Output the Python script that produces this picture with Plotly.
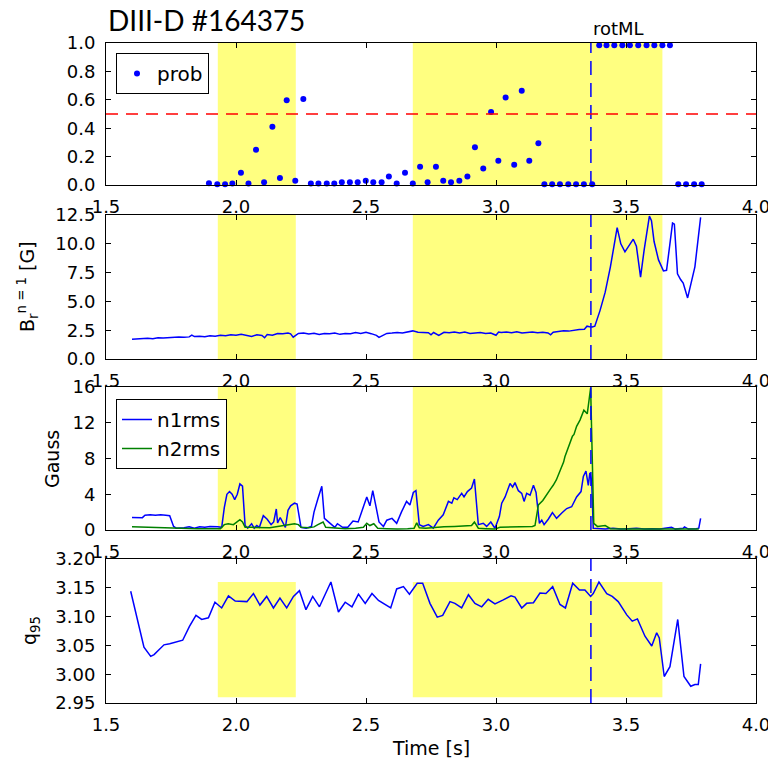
import plotly.graph_objects as go

# ---------------- data ----------------
prob_t = [1.896, 1.928, 1.958, 1.986, 2.019, 2.048, 2.077, 2.108, 2.140, 2.169,
          2.195, 2.228, 2.259, 2.288, 2.317, 2.349, 2.378, 2.407, 2.438, 2.468,
          2.499, 2.528, 2.560, 2.588, 2.618, 2.650, 2.680, 2.708, 2.737, 2.769,
          2.797, 2.827, 2.859, 2.890, 2.919, 2.951, 2.981, 3.009, 3.037, 3.070,
          3.099, 3.128, 3.163, 3.186, 3.216, 3.246, 3.278, 3.308, 3.338, 3.370,
          3.397, 3.425, 3.455, 3.486, 3.515, 3.547, 3.579, 3.609, 3.640, 3.669,
          3.701, 3.731, 3.762, 3.791]
prob_v = [0.012, 0.005, 0.005, 0.010, 0.087, 0.010, 0.249, 0.020, 0.410, 0.050,
          0.597, 0.030, 0.605, 0.010, 0.010, 0.010, 0.010, 0.020, 0.020, 0.020,
          0.030, 0.020, 0.020, 0.060, 0.010, 0.087, 0.010, 0.128, 0.020, 0.128,
          0.030, 0.020, 0.030, 0.060, 0.265, 0.116, 0.514, 0.170, 0.616, 0.142,
          0.664, 0.170, 0.294, 0.005, 0.005, 0.005, 0.005, 0.005, 0.005, 0.005,
          0.985, 0.985, 0.985, 0.985, 0.985, 0.985, 0.985, 0.985, 0.985, 0.985,
          0.005, 0.005, 0.005, 0.005]

br_t = [1.60, 1.62, 1.64, 1.66, 1.68, 1.70, 1.72, 1.74, 1.76, 1.78, 1.80, 1.82, 1.83, 1.84,
        1.86, 1.88, 1.90, 1.92, 1.94, 1.96, 1.98, 2.00, 2.02, 2.04, 2.06, 2.08, 2.10, 2.11,
        2.12, 2.14, 2.16, 2.18, 2.20, 2.21, 2.22, 2.24, 2.26, 2.28, 2.30, 2.32, 2.34, 2.36,
        2.38, 2.40, 2.42, 2.44, 2.46, 2.48, 2.50, 2.52, 2.54, 2.55, 2.56, 2.58, 2.60, 2.62,
        2.64, 2.66, 2.68, 2.70, 2.72, 2.74, 2.75, 2.76, 2.78, 2.80, 2.82, 2.84, 2.86, 2.88,
        2.90, 2.92, 2.94, 2.96, 2.98, 3.00, 3.01, 3.02, 3.04, 3.06, 3.08, 3.10, 3.12, 3.14,
        3.16, 3.18, 3.20, 3.21, 3.22, 3.24, 3.26, 3.28, 3.30, 3.32, 3.34, 3.35, 3.36, 3.37,
        3.38, 3.40, 3.42, 3.44, 3.466, 3.48, 3.496, 3.51, 3.528, 3.54, 3.556, 3.57, 3.59,
        3.598, 3.608, 3.625, 3.644, 3.656, 3.679, 3.686, 3.698, 3.71, 3.72, 3.737, 3.75,
        3.765, 3.787]
br_v = [1.72, 1.75, 1.72, 1.80, 1.76, 1.84, 1.82, 1.86, 1.85, 1.90, 1.88, 1.92, 2.08, 1.95,
        1.98, 1.94, 2.02, 1.98, 2.06, 2.02, 2.10, 2.06, 2.14, 2.08, 1.96, 2.10, 2.05, 1.85,
        2.12, 2.06, 2.22, 2.20, 2.25, 2.18, 1.90, 2.22, 2.26, 2.18, 2.24, 2.12, 2.22, 2.20,
        2.26, 2.14, 2.22, 2.20, 2.30, 2.22, 2.32, 2.20, 2.05, 1.88, 2.00, 2.22, 2.25, 2.30,
        2.26, 2.36, 2.44, 2.32, 2.30, 2.28, 2.10, 2.30, 2.04, 2.32, 2.28, 2.34, 2.26, 2.34,
        2.22, 2.24, 2.30, 2.22, 2.26, 2.06, 2.34, 2.30, 2.34, 2.28, 2.36, 2.26, 2.30, 2.34,
        2.28, 2.32, 2.26, 2.10, 2.32, 2.36, 2.46, 2.42, 2.50, 2.55, 2.58, 2.85, 2.80, 2.78,
        2.85, 4.2, 5.8, 8.0, 11.4, 10.0, 9.3, 9.8, 10.4, 9.8, 7.1, 9.5, 12.4,
        12.0, 10.2, 8.6, 7.65, 7.7, 11.8, 11.7, 7.4, 6.9, 6.6, 5.3, 6.5,
        8.0, 12.3]

n1_t = [1.60, 1.62, 1.64, 1.65, 1.67, 1.69, 1.71, 1.73, 1.745, 1.76, 1.77, 1.80, 1.82, 1.84,
        1.86, 1.88, 1.90, 1.93, 1.945, 1.955, 1.965, 1.975, 1.985, 1.995, 2.005, 2.015, 2.025,
        2.035, 2.045, 2.06, 2.07, 2.08, 2.09, 2.105, 2.12, 2.135, 2.145, 2.155, 2.16, 2.17,
        2.178, 2.19, 2.20, 2.21, 2.225, 2.235, 2.25, 2.27, 2.29, 2.30, 2.315, 2.33, 2.34,
        2.35, 2.36, 2.38, 2.39, 2.41, 2.43, 2.45, 2.47, 2.49, 2.503, 2.515, 2.526, 2.54,
        2.55, 2.567, 2.58, 2.60, 2.618, 2.637, 2.656, 2.669, 2.682, 2.692, 2.705, 2.72,
        2.74, 2.759, 2.778, 2.797, 2.817, 2.83, 2.838, 2.851, 2.868, 2.877, 2.89, 2.906,
        2.917, 2.932, 2.951, 2.964, 2.98, 2.996, 3.013, 3.022, 3.035, 3.054, 3.064, 3.073,
        3.086, 3.099, 3.108, 3.118, 3.131, 3.144, 3.154, 3.167, 3.176, 3.185, 3.201, 3.217,
        3.233, 3.253, 3.272, 3.291, 3.31, 3.327, 3.336, 3.346, 3.355, 3.361, 3.368, 3.374,
        3.39, 3.42, 3.45, 3.48, 3.51, 3.54, 3.57, 3.60, 3.63, 3.66, 3.675, 3.69, 3.72,
        3.725, 3.74, 3.77, 3.78, 3.787]
n1_v = [1.40, 1.42, 1.38, 1.65, 1.70, 1.65, 1.70, 1.65, 1.60, 0.40, 0.20, 0.25, 0.35, 0.20,
        0.35, 0.30, 0.40, 0.35, 0.30, 2.5, 4.0, 4.3, 4.0, 3.4, 4.0, 5.15, 4.9,
        0.5, 0.2, 0.7, 0.2, 0.5, 0.3, 1.6, 1.2, 0.6, 0.9, 2.35, 0.8, 1.4,
        0.9, 0.3, 2.2, 2.7, 3.0, 2.9, 0.3, 0.2, 0.4, 2.0, 3.5, 4.9, 1.3,
        1.0, 0.8, 0.3, 0.7, 0.3, 0.3, 1.0, 0.9, 2.6, 3.7, 2.7, 4.4, 2.4,
        0.9, 0.4, 1.1, 1.3, 0.75, 2.05, 3.2, 2.8, 4.2, 4.4, 0.6, 0.4,
        0.6, 0.2, 1.1, 1.7, 3.2, 3.0, 3.6, 3.4, 4.1, 3.7, 4.3, 4.7,
        5.7, 0.6, 0.75, 0.4, 0.9, 0.2, 1.5, 3.0, 3.7, 5.2, 4.8, 5.3,
        4.4, 4.1, 3.2, 4.1, 3.9, 5.0, 4.2, 0.75, 1.1, 0.6, 1.2, 1.95,
        1.3, 1.9, 2.4, 2.6, 3.7, 4.3, 6.0, 6.6, 5.0, 6.4, 5.5, 0.2,
        0.15, 0.1, 0.2, 0.1, 0.15, 0.2, 0.1, 0.15, 0.1, 0.2, 0.3, 0.1, 0.2,
        0.35, 0.1, 0.15, 0.2, 1.3]

n2_t = [1.60, 1.65, 1.70, 1.75, 1.80, 1.85, 1.90, 1.94, 1.955, 1.97, 1.99, 2.00, 2.015,
        2.025, 2.035, 2.06, 2.10, 2.13, 2.16, 2.19, 2.21, 2.225, 2.24, 2.25, 2.28, 2.30,
        2.315, 2.335, 2.345, 2.38, 2.42, 2.46, 2.49, 2.503, 2.515, 2.53, 2.545, 2.58, 2.62,
        2.66, 2.685, 2.695, 2.705, 2.73, 2.76, 2.80, 2.84, 2.88, 2.906, 2.917, 2.932, 2.96,
        2.996, 3.015, 3.06, 3.10, 3.14, 3.15, 3.163, 3.18, 3.195, 3.21, 3.22, 3.232, 3.246,
        3.26, 3.265, 3.275, 3.285, 3.294, 3.30, 3.31, 3.323, 3.338, 3.351, 3.358, 3.364,
        3.376, 3.39, 3.42, 3.44, 3.50, 3.60, 3.70, 3.78]
n2_v = [0.37, 0.32, 0.25, 0.20, 0.15, 0.15, 0.15, 0.15, 0.6, 0.7, 0.6, 0.8, 1.15,
        0.9, 0.3, 0.3, 0.3, 0.25, 0.4, 0.5, 0.6, 0.7, 0.6, 0.3, 0.25, 0.35,
        0.6, 0.9, 0.3, 0.2, 0.15, 0.2, 0.3, 0.75, 0.5, 0.7, 0.2, 0.15, 0.1,
        0.15, 0.2, 0.8, 0.25, 0.2, 0.3, 0.35, 0.4, 0.45, 0.5, 0.9, 0.2, 0.15,
        0.1, 0.3, 0.35, 0.35, 0.4, 0.5, 2.8, 3.3, 4.0, 4.6, 5.0, 5.6, 6.6,
        7.6, 8.2, 9.0, 9.6, 10.5, 10.7, 11.6, 12.3, 13.4, 13.0, 14.8, 15.9,
        0.75, 0.4, 0.5, 0.15, 0.1, 0.1, 0.1, 0.1]

q_t = [1.595, 1.646, 1.672, 1.685, 1.723, 1.745, 1.795, 1.821, 1.846, 1.868, 1.894, 1.919,
       1.945, 1.971, 1.997, 2.042, 2.067, 2.092, 2.118, 2.144, 2.169, 2.195, 2.221, 2.244,
       2.269, 2.295, 2.321, 2.365, 2.394, 2.420, 2.446, 2.471, 2.497, 2.523, 2.548, 2.595,
       2.618, 2.644, 2.667, 2.697, 2.718, 2.746, 2.774, 2.795, 2.823, 2.842, 2.868, 2.894,
       2.919, 2.945, 2.970, 2.996, 3.028, 3.058, 3.073, 3.099, 3.118, 3.144, 3.169, 3.192,
       3.218, 3.246, 3.267, 3.295, 3.321, 3.342, 3.364, 3.374, 3.396, 3.426, 3.447, 3.470,
       3.503, 3.524, 3.544, 3.573, 3.599, 3.618, 3.628, 3.647, 3.669, 3.699, 3.723, 3.749,
       3.765, 3.778, 3.787]
q_v = [3.144, 3.047, 3.031, 3.034, 3.051, 3.053, 3.059, 3.083, 3.102, 3.095, 3.098, 3.125,
       3.115, 3.136, 3.127, 3.126, 3.140, 3.120, 3.135, 3.115, 3.132, 3.115, 3.135, 3.145,
       3.112, 3.135, 3.117, 3.160, 3.108, 3.125, 3.117, 3.139, 3.123, 3.140, 3.128, 3.115,
       3.148, 3.152, 3.139, 3.158, 3.158, 3.123, 3.099, 3.102, 3.126, 3.123, 3.115, 3.138,
       3.123, 3.117, 3.130, 3.122, 3.129, 3.136, 3.134, 3.115, 3.123, 3.124, 3.141, 3.140,
       3.152, 3.121, 3.115, 3.158, 3.146, 3.146, 3.135, 3.140, 3.160, 3.140, 3.135, 3.126,
       3.103, 3.092, 3.096, 3.066, 3.049, 3.072, 3.063, 2.996, 3.013, 3.095, 2.996, 2.979,
       2.982, 2.982, 3.018]

spans = [(1.93, 2.23), (2.68, 3.64)]
q_span = (2.96, 3.16)
t_rotml = 3.365
prob_threshold = 0.5

# ---------------- figure ----------------
BLUE = "#0000ff"
GREEN = "#008000"
YELLOW = "#ffff80"
FONT = "DejaVu Sans"

fig = go.Figure()

fig.add_trace(go.Scatter(x=prob_t, y=prob_v, mode="markers", name="prob",
                         marker=dict(color=BLUE, size=6), cliponaxis=False,
                         xaxis="x", yaxis="y", legend="legend"))
fig.add_trace(go.Scatter(x=br_t, y=br_v, mode="lines", showlegend=False,
                         line=dict(color=BLUE, width=1.5), xaxis="x2", yaxis="y2"))
fig.add_trace(go.Scatter(x=n1_t, y=n1_v, mode="lines", name="n1rms",
                         line=dict(color=BLUE, width=1.5), xaxis="x3", yaxis="y3",
                         legend="legend2"))
fig.add_trace(go.Scatter(x=n2_t, y=n2_v, mode="lines", name="n2rms",
                         line=dict(color=GREEN, width=1.5), xaxis="x3", yaxis="y3",
                         legend="legend2"))
fig.add_trace(go.Scatter(x=q_t, y=q_v, mode="lines", showlegend=False,
                         line=dict(color=BLUE, width=1.5), xaxis="x4", yaxis="y4"))

W, H = 768, 762
ML, MR, MT, MB = 106, 12, 43, 59
PH = H - MT - MB


def pf(py):
    return (H - MB - py) / PH


domains = [(pf(185), 1.0), (pf(359), pf(215)), (pf(530), pf(387)), (0.0, pf(559))]
yranges = [[0, 1.0], [0, 12.5], [0, 16], [2.95, 3.20]]
ydticks = [0.2, 2.5, 4, 0.05]
yformats = [".1f", ".1f", "d", ".2f"]

axis_common = dict(showline=True, linecolor="black", linewidth=1, mirror="allticks",
                   ticks="inside", ticklen=5, tickcolor="black", showgrid=False,
                   zeroline=False, ticklabeloverflow="allow", automargin=False,
                   tickfont=dict(family=FONT, size=18, color="black"))

layout = dict(width=W, height=H, margin=dict(l=ML, r=MR, t=MT, b=MB, autoexpand=False),
              plot_bgcolor="white", paper_bgcolor="white")
shapes = []
for i in range(4):
    sfx = "" if i == 0 else str(i + 1)
    layout["xaxis" + sfx] = dict(axis_common, range=[1.5, 4.0], tick0=1.5, dtick=0.5,
                                 tickformat=".1f", anchor="y" + sfx, domain=[0, 1],
                                 ticklabelstandoff=5)
    layout["yaxis" + sfx] = dict(axis_common, range=yranges[i], dtick=ydticks[i],
                                 tick0=yranges[i][0], tickformat=yformats[i],
                                 anchor="x" + sfx, domain=list(domains[i]),
                                 ticklabelstandoff=6)
    for (a, b) in spans:
        if i == 3:
            shapes.append(dict(type="rect", xref="x4", yref="y4", x0=a, x1=b,
                               y0=q_span[0], y1=q_span[1], fillcolor=YELLOW,
                               line=dict(width=0), layer="below"))
        else:
            shapes.append(dict(type="rect", xref="x" + sfx, yref="y" + sfx + " domain",
                               x0=a, x1=b, y0=0, y1=1, fillcolor=YELLOW,
                               line=dict(width=0), layer="below"))
    shapes.append(dict(type="line", xref="x" + sfx, yref="y" + sfx + " domain",
                       x0=t_rotml, x1=t_rotml, y0=0, y1=1,
                       line=dict(color=BLUE, width=1.5, dash="14px,8px")))

shapes.append(dict(type="line", xref="x domain", yref="y", x0=0, x1=1,
                   y0=prob_threshold, y1=prob_threshold,
                   line=dict(color="red", width=1.5, dash="12px,8px")))
layout["shapes"] = shapes

layout["legend"] = dict(x=(116 - ML) / 650, y=pf(53), xanchor="left", yanchor="top",
                        bordercolor="black", borderwidth=1, bgcolor="white",
                        font=dict(family=FONT, size=20, color="black"))
layout["legend2"] = dict(x=(116 - ML) / 650, y=pf(399), xanchor="left", yanchor="top",
                         bordercolor="black", borderwidth=1, bgcolor="white",
                         font=dict(family=FONT, size=20, color="black"))

ann = []
ann.append(dict(text="DIII-D #164375", xref="paper", yref="paper", x=0, y=pf(39),
                xanchor="left", yanchor="bottom", showarrow=False,
                font=dict(family="Lato", size=28, color="black")))
ann.append(dict(text="rotML", xref="x", yref="paper", x=t_rotml, y=pf(41),
                xanchor="left", yanchor="bottom", showarrow=False,
                font=dict(family=FONT, size=18, color="black")))
ann.append(dict(text="Time [s]", xref="paper", yref="paper", x=0.5, y=pf(748),
                xanchor="center", yanchor="middle", showarrow=False,
                font=dict(family=FONT, size=19, color="black")))
ylabels = [("B<sub>r</sub><sup>n = 1</sup> [G]", 27, 287),
           ("Gauss", 52, 459),
           ("q<sub>95</sub>", 30, 631)]
for txt, px, py in ylabels:
    ann.append(dict(text=txt, xref="paper", yref="paper", x=(px - ML) / 650, y=pf(py),
                    xanchor="center", yanchor="middle", showarrow=False, textangle=-90,
                    font=dict(family=FONT, size=19, color="black")))
layout["annotations"] = ann

fig.update_layout(**layout)
fig.write_html("out.html")
